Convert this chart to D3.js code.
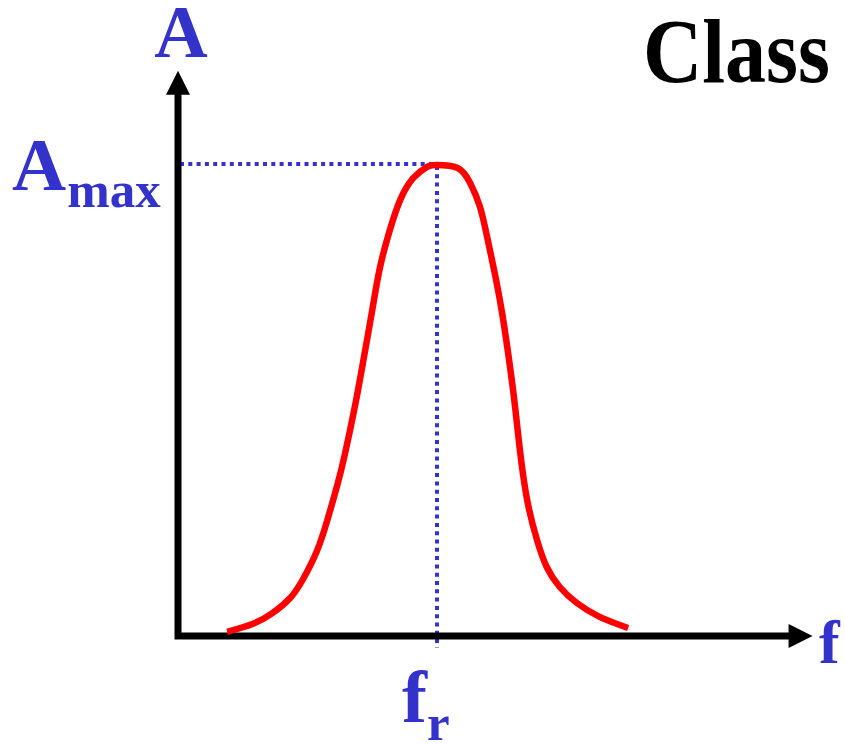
<!DOCTYPE html>
<html>
<head>
<meta charset="utf-8">
<script src="https://cdn.jsdelivr.net/npm/d3@7"></script>
<style>
  html, body { margin: 0; padding: 0; background: #fff; }
  svg { display: block; }
</style>
</head>
<body>
<svg id="chart" width="845" height="744"></svg>
<script>
// Resonance curve: amplitude A against driving frequency f (fr = 50, Amax = 100)
const freq = [9.5, 14.5, 18.3, 21.6, 24.1, 26.8, 28.8, 30.7, 32.2, 34.2, 35.7, 37.5, 39.0, 40.9,
              42.9, 45.4, 48.1, 50.0, 53.9, 56.4, 58.3, 59.8, 61.3, 62.7, 64.1, 65.1, 66.0, 67.4,
              69.3, 71.2, 73.7, 77.0, 81.5, 86.9];
const amp  = [0.9, 2.6, 4.9, 8.0, 12.0, 18.0, 24.5, 31.8, 38.5, 49.0, 58.0, 69.2, 78.3, 86.2,
              92.6, 97.2, 99.6, 100, 99.4, 96.2, 91.1, 84.1, 76.2, 67.7, 57.1, 48.4, 39.5, 28.9,
              20.4, 14.6, 10.4, 7.0, 4.0, 1.7];
const resonanceFreq = 50;
const ampMax = 100;
const axisEnds = { f: 122.5, A: 120 };
const labels = { title: "Class", yAxis: "A", xAxis: "f", peak: "A", peakSub: "max", res: "f", resSub: "r" };

const svg = d3.select("#chart");
const x = d3.scaleLinear().domain([0, resonanceFreq]).range([178, 437]);
const y = d3.scaleLinear().domain([0, ampMax]).range([636, 165]);

const blue = "#3333cc";
const arrowLen = 24, arrowHalf = 12;

// Dotted guides from Amax to the peak and from the peak down to fr
svg.append("line")
  .attr("x1", x(0) + 2).attr("x2", x(resonanceFreq))
  .attr("y1", y(ampMax) - 1).attr("y2", y(ampMax) - 1)
  .attr("stroke", blue).attr("stroke-width", 4).attr("stroke-dasharray", "4,4.3");
svg.append("line")
  .attr("x1", x(resonanceFreq)).attr("x2", x(resonanceFreq))
  .attr("y1", y(ampMax) + 1).attr("y2", y(0) + 12)
  .attr("stroke", blue).attr("stroke-width", 4).attr("stroke-dasharray", "4,4.3");

// Axes
svg.append("path")
  .attr("d", `M${x(0)},${y(axisEnds.A) + arrowLen - 2}L${x(0)},${y(0)}L${x(axisEnds.f) - arrowLen + 2},${y(0)}`)
  .attr("fill", "none").attr("stroke", "#000").attr("stroke-width", 7)
  .attr("stroke-linejoin", "miter");

// Arrowheads
const yt = y(axisEnds.A), xt = x(axisEnds.f);
svg.append("path")
  .attr("d", `M${x(0)},${yt}L${x(0) + arrowHalf},${yt + arrowLen}L${x(0) - arrowHalf},${yt + arrowLen}Z`)
  .attr("fill", "#000");
svg.append("path")
  .attr("d", `M${xt},${y(0)}L${xt - arrowLen},${y(0) - arrowHalf}L${xt - arrowLen},${y(0) + arrowHalf}Z`)
  .attr("fill", "#000");

// Resonance curve
const line = d3.line()
  .x((d, i) => x(freq[i]))
  .y(d => y(d))
  .curve(d3.curveNatural);
svg.append("path")
  .attr("d", line(amp))
  .attr("fill", "none").attr("stroke", "#ff0000").attr("stroke-width", 6.5)
  .attr("stroke-linecap", "butt");

// Labels
function label(px, py, size, color) {
  return svg.append("text")
    .attr("x", px).attr("y", py)
    .style("font-family", "'Liberation Serif'").style("font-weight", "bold")
    .style("font-size", size + "px").attr("fill", color);
}

label(x(0) + 3, 57, 74, blue).attr("text-anchor", "middle").text(labels.yAxis);

const amaxLabel = label(12, 190, 75, blue);
amaxLabel.append("tspan").text(labels.peak);
amaxLabel.append("tspan").attr("dx", 1).attr("dy", 17).style("font-size", "51px").text(labels.peakSub);

const frLabel = label(x(resonanceFreq) - 35, 722, 75, blue);
frLabel.append("tspan").text(labels.res);
frLabel.append("tspan").attr("dy", 18).style("font-size", "51px").text(labels.resSub);

label(819, 663, 62, blue).text(labels.xAxis);

// Title, set a little condensed
label(643, 82, 92, "#000")
  .attr("textLength", 187).attr("lengthAdjust", "spacingAndGlyphs")
  .text(labels.title);
</script>
</body>
</html>
